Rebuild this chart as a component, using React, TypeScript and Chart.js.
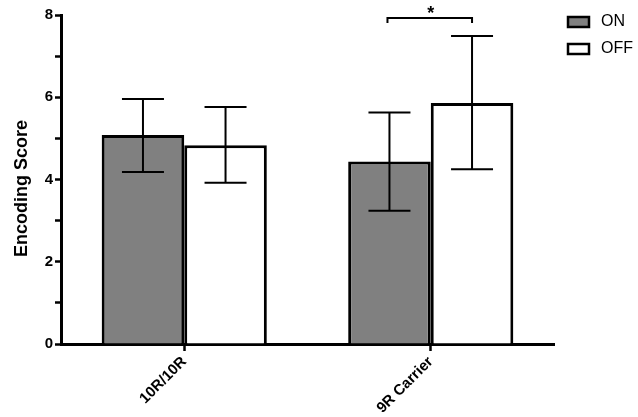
import React, { useEffect, useRef } from "react";
import { Chart, registerables } from "chart.js";

Chart.register(...registerables);

const categories = ["10R/10R", "9R Carrier"];
const seriesNames = ["ON", "OFF"];
const onMeans = [5.08, 4.44];
const onUpper = [5.96, 5.63];
const onLower = [4.18, 3.24];
const offMeans = [4.83, 5.86];
const offUpper = [5.76, 7.49];
const offLower = [3.92, 4.25];
const yTicks = [0, 2, 4, 6, 8];
const yTitle = "Encoding Score";
const sigLevel = 7.93;
const sigLabel = "*";

const FONT = "'Liberation Sans', Arial, Helvetica, sans-serif";

const errorBarPlugin = {
  id: "errorBars",
  afterDatasetsDraw(chart: any) {
    const ctx = chart.ctx;
    const yScale = chart.scales.y;
    const uppers = [onUpper, offUpper];
    const lowers = [onLower, offLower];
    ctx.save();
    ctx.strokeStyle = "#000";
    ctx.lineWidth = 2;
    chart.data.datasets.forEach((_ds: any, i: number) => {
      const meta = chart.getDatasetMeta(i);
      meta.data.forEach((bar: any, j: number) => {
        const x = bar.x;
        const yt = yScale.getPixelForValue(uppers[i][j]);
        const yb = yScale.getPixelForValue(lowers[i][j]);
        const half = 21;
        ctx.beginPath();
        ctx.moveTo(x, yt);
        ctx.lineTo(x, yb);
        ctx.moveTo(x - half, yt);
        ctx.lineTo(x + half, yt);
        ctx.moveTo(x - half, yb);
        ctx.lineTo(x + half, yb);
        ctx.stroke();
      });
    });
    const a = chart.getDatasetMeta(0).data[1];
    const b = chart.getDatasetMeta(1).data[1];
    if (a && b) {
      const y = yScale.getPixelForValue(sigLevel);
      ctx.beginPath();
      ctx.moveTo(a.x - 2, y + 5);
      ctx.lineTo(a.x - 2, y);
      ctx.lineTo(b.x, y);
      ctx.lineTo(b.x, y + 5);
      ctx.stroke();
      ctx.fillStyle = "#000";
      ctx.font = `bold 18px ${FONT}`;
      ctx.textAlign = "center";
      ctx.textBaseline = "alphabetic";
      ctx.fillText(sigLabel, (a.x + b.x) / 2, y + 1);
    }
    ctx.restore();
  },
};

const legendPlugin = {
  id: "customLegend",
  afterDraw(chart: any) {
    const ctx = chart.ctx;
    ctx.save();
    const x0 = chart.chartArea.right + 14;
    chart.data.datasets.forEach((ds: any, i: number) => {
      const y = 17 + i * 27;
      ctx.fillStyle = ds.backgroundColor;
      ctx.fillRect(x0, y, 21, 10);
      ctx.strokeStyle = "#000";
      ctx.lineWidth = 2.5;
      ctx.strokeRect(x0, y, 21, 10);
      ctx.fillStyle = "#000";
      ctx.font = `16px ${FONT}`;
      ctx.textAlign = "left";
      ctx.textBaseline = "middle";
      ctx.fillText(seriesNames[i], x0 + 33, y + 5);
    });
    // y axis title
    const { top, bottom } = chart.chartArea;
    ctx.translate(22, (top + bottom) / 2 + 9);
    ctx.rotate(-Math.PI / 2);
    ctx.font = `bold 18px ${FONT}`;
    ctx.textAlign = "center";
    ctx.textBaseline = "middle";
    ctx.fillText(yTitle, 0, 0);
    ctx.restore();
  },
};

export default function App() {
  const ref = useRef<HTMLCanvasElement>(null);
  useEffect(() => {
    if (!ref.current) return;
    document.body.style.margin = "0";
    const chart = new Chart(ref.current, {
      type: "bar",
      data: {
        labels: categories,
        datasets: [
          {
            label: seriesNames[0],
            data: onMeans,
            backgroundColor: "#808080",
            borderColor: "#000",
            borderWidth: 3,
          },
          {
            label: seriesNames[1],
            data: offMeans,
            backgroundColor: "#ffffff",
            borderColor: "#000",
            borderWidth: 3,
          },
        ],
      },
      options: {
        animation: false,
        responsive: true,
        maintainAspectRatio: false,
        layout: { padding: { top: 15, right: 84, left: 8, bottom: 0 } },
        datasets: { bar: { categoryPercentage: 0.67, barPercentage: 1 } },
        plugins: { legend: { display: false }, tooltip: { enabled: false } },
        scales: {
          x: {
            grid: {
              display: true,
              drawOnChartArea: false,
              drawTicks: true,
              offset: false,
              tickLength: 7,
              tickWidth: 2.5,
              tickColor: "#000",
            },
            border: { display: true, color: "#000", width: 3 },
            ticks: {
              color: "#000",
              font: { family: FONT, size: 15, weight: "bold" },
              minRotation: 45,
              maxRotation: 45,
              padding: 2,
            },
            afterFit(scale: any) {
              scale.height = 73;
              scale.paddingLeft = 0;
              scale.paddingRight = 0;
            },
          },
          y: {
            min: 0,
            max: 8,
            grid: {
              display: true,
              drawOnChartArea: false,
              drawTicks: true,
              tickLength: 6,
              tickWidth: 2.5,
              tickColor: "#000",
            },
            border: { display: true, color: "#000", width: 3 },
            ticks: {
              stepSize: 1,
              color: "#000",
              padding: 2,
              font: { family: FONT, size: 15, weight: "bold" },
              callback: (v: any) => (yTicks.includes(Number(v)) ? String(v) : ""),
            },
            title: { display: false },
            afterFit(scale: any) {
              scale.width = 53;
              scale.paddingTop = 0;
              scale.paddingBottom = 0;
            },
          },
        },
      },
      plugins: [errorBarPlugin, legendPlugin],
    });
    return () => chart.destroy();
  }, []);
  return (
    <div style={{ position: "relative", width: 638, height: 417 }}>
      <canvas ref={ref} />
    </div>
  );
}
